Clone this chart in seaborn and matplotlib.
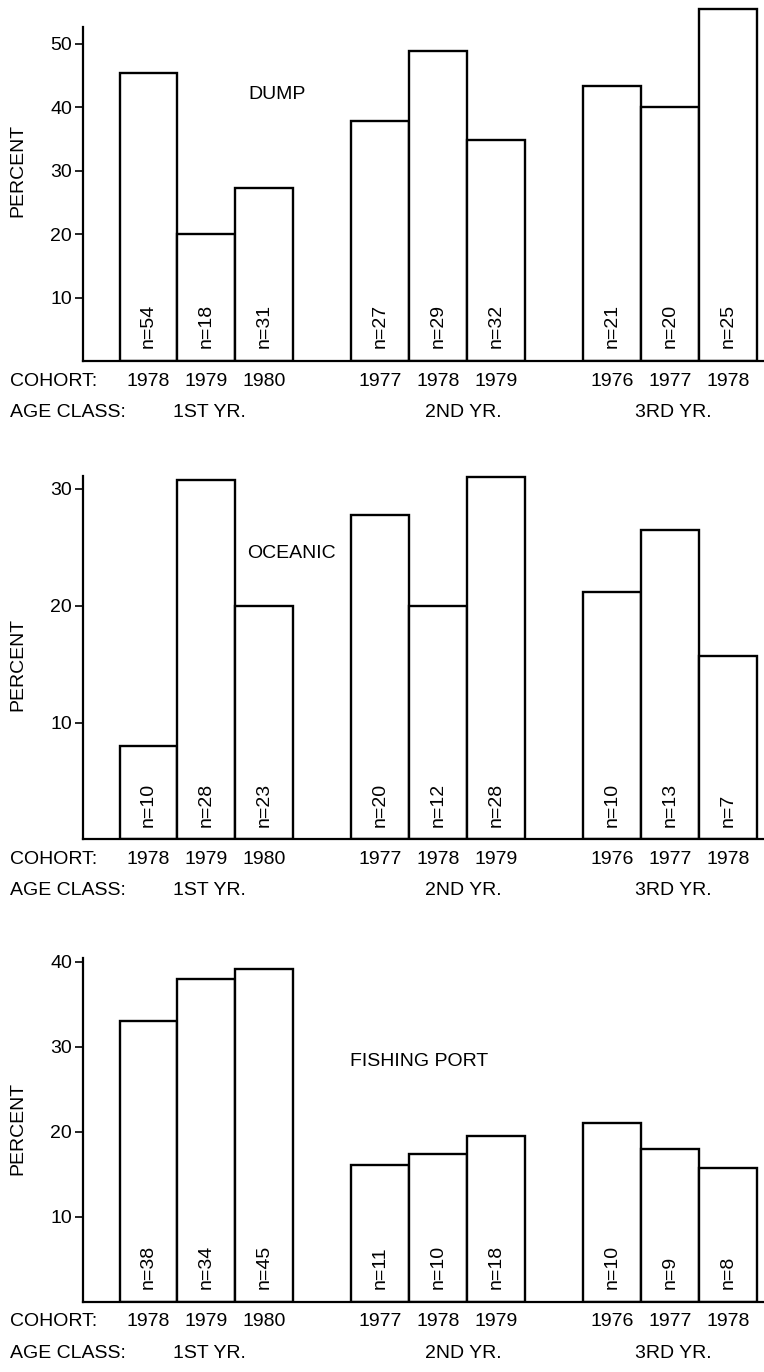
import matplotlib
matplotlib.use("Agg")
import matplotlib.pyplot as plt
import seaborn as sns
import pandas as pd
import numpy as np

# Cohort year of each bar, three bars per age class
cohorts = [1978, 1979, 1980, 1977, 1978, 1979, 1976, 1977, 1978]
age_classes = ["1ST YR.", "2ND YR.", "3RD YR."]

dump_pct = [45.5, 20.0, 27.3, 37.9, 48.9, 34.9, 43.3, 40.0, 55.5]
dump_n = [54, 18, 31, 27, 29, 32, 21, 20, 25]

oceanic_pct = [8.0, 30.8, 20.0, 27.8, 20.0, 31.0, 21.2, 26.5, 15.7]
oceanic_n = [10, 28, 23, 20, 12, 28, 10, 13, 7]

port_pct = [33.0, 38.0, 39.2, 16.1, 17.4, 19.5, 21.0, 18.0, 15.7]
port_n = [38, 34, 45, 11, 10, 18, 10, 9, 8]

sns.set_style("ticks")
plt.rcParams["font.family"] = ["Liberation Sans", "DejaVu Sans"]
plt.rcParams.update({
    "axes.linewidth": 1.6,
    "text.color": "black",
    "axes.labelcolor": "black",
    "axes.edgecolor": "black",
    "xtick.color": "black",
    "ytick.color": "black",
})

W, H = 764, 1372
fig = plt.figure(figsize=(W / 100, H / 100), dpi=100)

# slot of each bar: groups of three with one empty slot between groups
group_idx = np.repeat(np.arange(len(age_classes)), 3)
slot = group_idx * 4 + np.tile(np.arange(3), len(age_classes))
# horizontal placement of the age-class captions (slot units)
age_label_x = [1.06, 5.44, 9.05]

panels = [
    # title, pct, n, ylim top, spine top, yticks, baseline px, px per unit,
    # title x/y, y-label centre px
    ("DUMP", dump_pct, dump_n, 56.5, 52.7, [10, 20, 30, 40, 50], 361, 6.34, 1.72, 42.0, 170),
    ("OCEANIC", oceanic_pct, oceanic_n, 31.3, 31.1, [10, 20, 30], 839.3, 11.68, 1.70, 24.5, 664),
    ("FISHING PORT", port_pct, port_n, 40.5, 40.4, [10, 20, 30, 40], 1301.7, 8.5, 3.48, 28.3, 1128),
]

left_px, right_px = 83, 763
xmin = -1.13
xmax = xmin + (right_px - left_px) / 57.95
FS = 14

for title, pct, ns, ytop, spine_top, yt, base_px, ppu, tx, ty, lab_px in panels:
    h_px = ytop * ppu
    ax = fig.add_axes([left_px / W, 1 - base_px / H, (right_px - left_px) / W, h_px / H])
    df = pd.DataFrame({"slot": slot, "pct": pct, "n": ns, "cohort": cohorts})
    sns.barplot(data=df, x="slot", y="pct", native_scale=True, width=1.0,
                color="white", edgecolor="black", linewidth=1.7,
                errorbar=None, ax=ax)
    for p in ax.patches:
        p.set_facecolor("white")
    ax.set_xlim(xmin, xmax)
    ax.set_ylim(0, ytop)
    sns.despine(ax=ax)
    ax.spines["left"].set_bounds(0, spine_top)
    ax.set_yticks(yt)
    ax.set_yticklabels([str(v) for v in yt], fontsize=FS)
    ax.tick_params(axis="y", direction="out", length=6, width=1.2, pad=2)
    ax.set_xticks([])
    ax.set_xlabel("")
    ax.set_ylabel("PERCENT", fontsize=FS)
    ax.yaxis.set_label_coords((26 - left_px) / (right_px - left_px),
                              (base_px - lab_px) / h_px)

    ax.text(tx, ty, title, fontsize=FS, ha="left", va="center")

    for x, n in zip(df["slot"], df["n"]):
        ax.annotate(f"n={n}", xy=(x, 0), xytext=(0, 9), textcoords="offset points",
                    rotation=90, ha="center", va="bottom", fontsize=FS)

    # cohort row and age-class row beneath the axis
    ax.annotate("COHORT:", xy=(10 / W, 0), xycoords=("figure fraction", "axes fraction"),
                xytext=(0, -14.5), textcoords="offset points",
                ha="left", va="center", fontsize=FS)
    for x, c in zip(df["slot"], df["cohort"]):
        ax.annotate(str(c), xy=(x, 0), xycoords=("data", "axes fraction"),
                    xytext=(0, -14.5), textcoords="offset points",
                    ha="center", va="center", fontsize=FS)
    ax.annotate("AGE CLASS:", xy=(10 / W, 0), xycoords=("figure fraction", "axes fraction"),
                xytext=(0, -37), textcoords="offset points",
                ha="left", va="center", fontsize=FS)
    for x, a in zip(age_label_x, age_classes):
        ax.annotate(a, xy=(x, 0), xycoords=("data", "axes fraction"),
                    xytext=(0, -37), textcoords="offset points",
                    ha="center", va="center", fontsize=FS)

fig.savefig("out.png", dpi=100, facecolor="white")
